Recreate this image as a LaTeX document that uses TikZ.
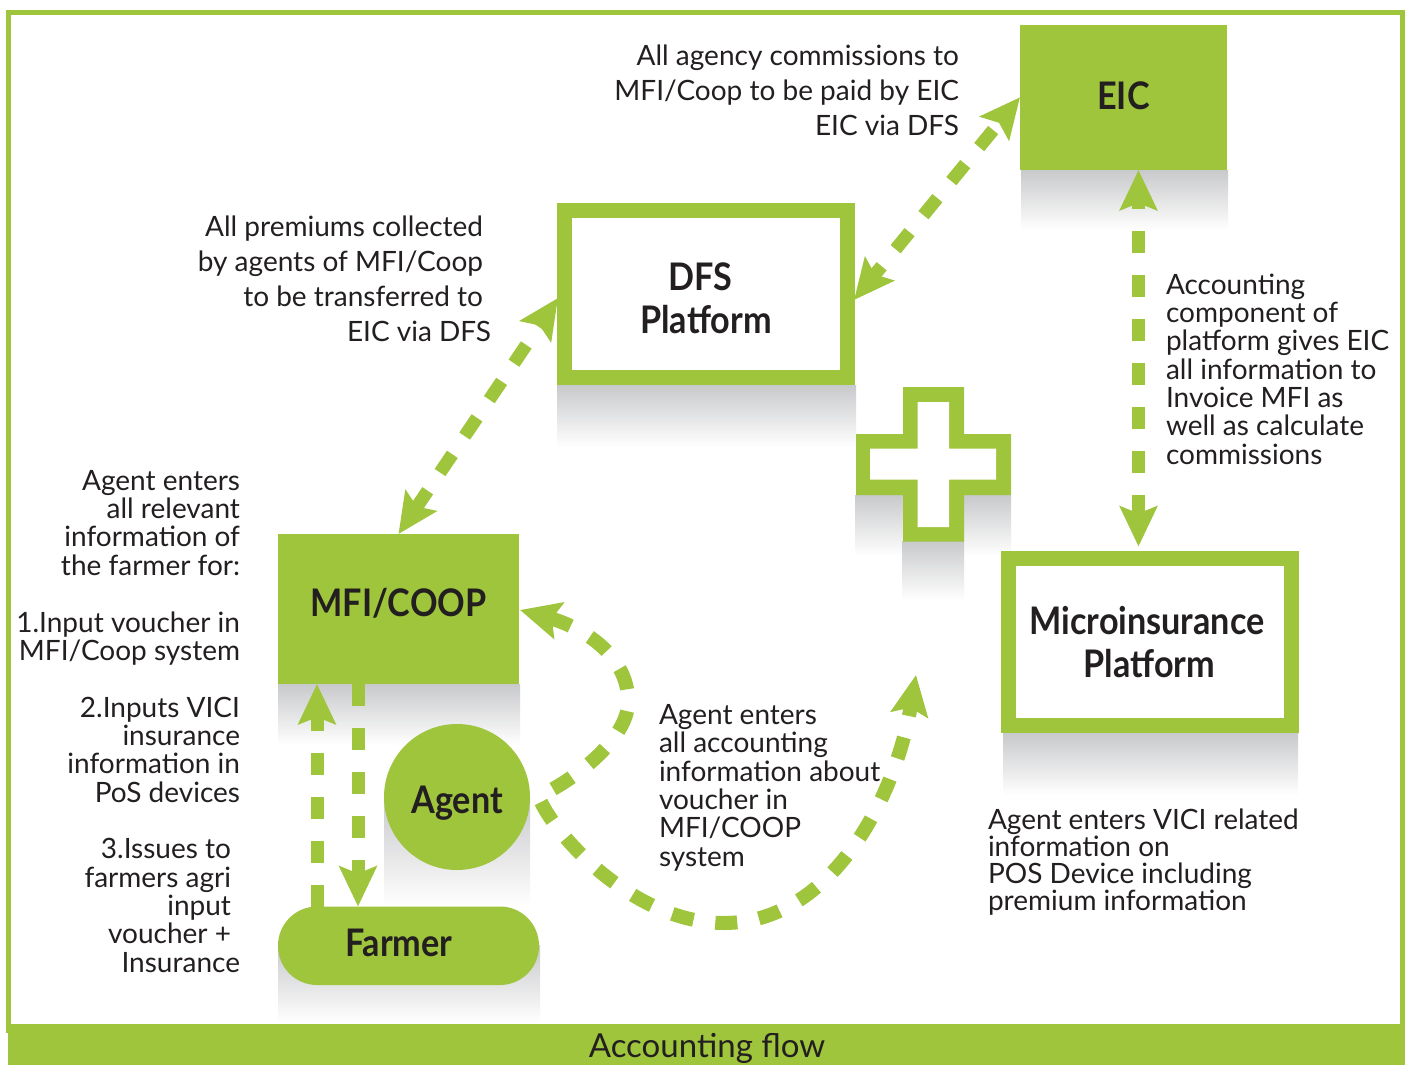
\documentclass[tikz,border=0pt]{standalone}
\usepackage{fontspec}
\setmainfont{Lato}
\newfontfamily\headfont[FakeStretch=0.9]{Lato Bold}
\usetikzlibrary{arrows.meta}
\definecolor{flowgreen}{HTML}{9EC53C}
\definecolor{inkdark}{HTML}{231F20}
\definecolor{shadowgray}{HTML}{C8C9CB}
\tikzset{
  solidbox/.style={fill=flowgreen,draw=none,inner sep=0pt,outer sep=0pt,text=inkdark,font=\fontsize{38}{43}\selectfont\headfont,align=center},
  framebox/.style={fill=white,draw=flowgreen,line width=15pt,inner sep=0pt,text=inkdark,font=\fontsize{38}{43}\selectfont\headfont,align=center},
  bodytext/.style={inner sep=0pt,outer sep=0pt,text=inkdark,font=\fontsize{28}{28.3}\selectfont},
  rtext/.style={bodytext,align=right,anchor=base east},
  ltext/.style={bodytext,align=left,anchor=base west},
  flowline/.style={draw=flowgreen,line width=13pt,dash pattern=on 22pt off 22pt},
  headone/.style={-{Stealth[length=40pt,width=37pt,inset=7pt,fill=flowgreen]}},
  headtwo/.style={{Stealth[length=40pt,width=37pt,inset=7pt,fill=flowgreen]}-{Stealth[length=40pt,width=37pt,inset=7pt,fill=flowgreen]}},
  fade/.style={top color=shadowgray,bottom color=white,draw=none},
}
\begin{document}
\begin{tikzpicture}[x=1pt,y=-1pt]
\useasboundingbox (0,0) rectangle (1406,1065);
\fill[white] (0,0) rectangle (1406,1065);
% frame and title bar
\draw[flowgreen,line width=5pt] (8.5,13) rectangle (1402.5,1030);
\node[fill=flowgreen,minimum width=1397pt,minimum height=41pt,inner sep=0pt,anchor=north west] (bar) at (8,1024) {};
\node[bodytext,font=\fontsize{33}{33}\selectfont,anchor=base] (title) at (707,1057) {Accounting flow};
% fading shadows
\shade[fade] (1021,170) rectangle (1228,230);
\shade[fade] (557,385) rectangle (856,447);
\shade[fade] (855,495) rectangle (1011,556);
\shade[fade] (902,541) rectangle (964,600);
\shade[fade] (1003,733) rectangle (1298,795);
\shade[fade] (278,684) rectangle (520,745);
\shade[fade] (384,797) rectangle (530,905);
\shade[fade] (278,945) rectangle (540,1023);
% boxes
\node[solidbox,minimum width=207pt,minimum height=144.5pt] (eic) at (1123.5,97.25) {\raisebox{3pt}{EIC}};
\node[framebox,minimum width=283pt,minimum height=167pt] (dfs) at (706,294) {\raisebox{-9pt}[\height][\depth]{\begin{tabular}{@{}c@{}}DFS\hspace*{11pt}\\Platform\end{tabular}}};
\node[framebox,minimum width=283pt,minimum height=167pt] (micro) at (1149.5,642) {\raisebox{-5pt}[\height][\depth]{\begin{tabular}{@{}c@{}}Microinsurance\hspace*{5pt}\\Platform\end{tabular}}};
\node[solidbox,minimum width=241pt,minimum height=150pt] (mfi) at (398.5,609) {\raisebox{14pt}{MFI/COOP}};
\node[solidbox,circle,minimum size=146pt] (agent) at (457,797) {\raisebox{-6pt}[\height][\depth]{Agent}};
\node[solidbox,rounded corners=39pt,minimum width=261pt,minimum height=78.5pt] (farmer) at (408.5,945.75) {\raisebox{6pt}{Farmer}\hspace*{19pt}};
% plus sign
\fill[flowgreen] (903,387) -- (964,387) -- (964,434) -- (1011,434) -- (1011,495) -- (964,495) -- (964,541.5) -- (903,541.5) -- (903,495) -- (856,495) -- (856,434) -- (903,434) -- cycle;
\fill[white] (917.5,402) -- (949,402) -- (949,448.5) -- (996,448.5) -- (996,479.5) -- (949,479.5) -- (949,527) -- (917.5,527) -- (917.5,479.5) -- (870,479.5) -- (870,448.5) -- (917.5,448.5) -- cycle;
% connector ends
\coordinate (dfsE) at (854,300);
\coordinate (dfsW) at (558,298);
\coordinate (eicS) at (1138.5,170);
\coordinate (microN) at (1138.5,546.5);
\coordinate (mfiSa) at (317,684);
\coordinate (mfiSb) at (358,684);
\coordinate (farmA) at (317,906.5);
\coordinate (farmB) at (358,906.5);
\coordinate (agentA) at (553,789);
\coordinate (agentB) at (541,802);
\coordinate (mfiE) at (520,610);
\coordinate (microW) at (916,675);
% connectors
\draw[flowline,headtwo,dash phase=9pt] (dfsE) -- (eic.west);
\draw[flowline,headtwo,dash phase=18pt] (dfsW) -- (mfi.north);
\draw[flowline,headtwo,dash phase=14pt] (eicS) -- (microN);
\draw[flowline,headone] (farmA) -- (mfiSa);
\draw[flowline,headone] (mfiSb) -- (farmB);
\draw[flowline,line width=14pt,headone] (agentA) .. controls (590,768) and (632,730) .. (628,697) .. controls (625,650) and (575,625) .. (mfiE);
\draw[flowline,line width=14pt,headone] (agentB) .. controls (558,838) and (635,923) .. (724,923) .. controls (830,923) and (895,800) .. (microW);
% texts
\node[rtext,font=\fontsize{28}{35}\selectfont] (t1) at (959,135) {All agency commissions to\\MFI/Coop to be paid by EIC\\EIC via DFS};
\node[rtext,font=\fontsize{28}{35}\selectfont] (t2) at (491,341) {\mbox{All premiums collected\kern8pt}\\\mbox{by agents of MFI/Coop\kern8pt}\\\mbox{to be transferred to\kern8pt}\\EIC via DFS};
\node[rtext] (t3) at (240,575) {Agent enters\\all relevant\\information of\\the farmer for:};
\node[rtext] (t4) at (240,660.5) {1.Input voucher in\\MFI/Coop system};
\node[rtext] (t5) at (240,802) {2.Inputs VICI\\insurance\\information in\\PoS devices};
\node[rtext] (t6) at (240,972) {\mbox{3.Issues to\kern9pt}\\\mbox{farmers agri\kern9pt}\\\mbox{input\kern9pt}\\\mbox{voucher +\kern9pt}\\Insurance};
\node[ltext] (t7) at (1166,464) {Accounting\\component of\\platform gives EIC\\all information to\\Invoice MFI as\\well as calculate\\commissions};
\node[ltext] (t8) at (659,866) {Agent enters\\all accounting\\information about\\voucher in\\MFI/COOP\\system};
\node[ltext,font=\fontsize{28}{27}\selectfont] (t9) at (988,910) {Agent enters VICI related\\information on\\POS Device including\\premium information};
\end{tikzpicture}
\end{document}
